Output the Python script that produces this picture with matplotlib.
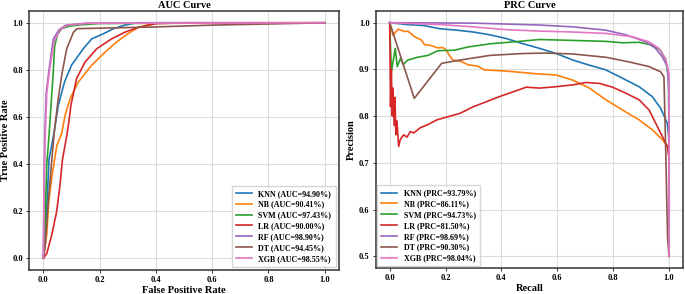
import matplotlib
matplotlib.use("Agg")
import matplotlib.pyplot as plt

plt.rcParams["font.family"] = ["Liberation Serif", "DejaVu Serif"]
plt.rcParams["font.weight"] = "bold"

models = ["KNN", "NB", "SVM", "LR", "RF", "DT", "XGB"]
colors = ["#1f77b4", "#ff7f0e", "#2ca02c", "#d62728", "#9467bd", "#8c564b", "#e377c2"]
auc_scores = [94.90, 90.41, 97.43, 90.00, 98.90, 94.45, 98.55]
prc_scores = [93.79, 86.11, 94.73, 81.50, 98.69, 90.30, 98.04]

# ROC curves (fpr, tpr)
knn_fpr = [0, 0.005, 0.012, 0.02, 0.039, 0.053, 0.075, 0.10, 0.142, 0.172, 0.213, 0.249, 0.29, 0.33, 1.0]
knn_tpr = [0, 0.08, 0.21, 0.42, 0.54, 0.65, 0.748, 0.82, 0.89, 0.932, 0.953, 0.975, 0.99, 1.0, 1.0]
nb_fpr = [0, 0.006, 0.012, 0.019, 0.031, 0.048, 0.065, 0.077, 0.095, 0.124, 0.172, 0.219, 0.26, 0.30, 0.336, 0.40, 1.0]
nb_tpr = [0, 0.05, 0.10, 0.24, 0.353, 0.48, 0.53, 0.607, 0.678, 0.748, 0.82, 0.875, 0.918, 0.953, 0.98, 1.0, 1.0]
svm_fpr = [0, 0.004, 0.007, 0.012, 0.02, 0.035, 0.04, 0.05, 0.065, 0.09, 0.12, 0.2, 1.0]
svm_tpr = [0, 0.05, 0.2, 0.4, 0.52, 0.79, 0.90, 0.95, 0.975, 0.985, 0.99, 0.997, 1.0]
lr_fpr = [0, 0.012, 0.03, 0.047, 0.059, 0.068, 0.083, 0.089, 0.098, 0.118, 0.148, 0.19, 0.243, 0.29, 0.336, 0.40, 0.5, 1.0]
lr_tpr = [0, 0.02, 0.10, 0.197, 0.31, 0.42, 0.52, 0.565, 0.65, 0.763, 0.833, 0.89, 0.932, 0.96, 0.98, 0.996, 1.0, 1.0]
rf_fpr = [0, 0.002, 0.005, 0.01, 0.02, 0.035, 0.055, 0.08, 0.15, 1.0]
rf_tpr = [0, 0.3, 0.52, 0.7, 0.8, 0.93, 0.97, 0.99, 0.998, 1.0]
dt_fpr = [0, 0.006, 0.015, 0.03, 0.039, 0.053, 0.067, 0.083, 0.107, 0.12, 0.39, 0.6, 1.0]
dt_tpr = [0, 0.05, 0.2, 0.42, 0.54, 0.68, 0.79, 0.89, 0.96, 0.975, 0.982, 0.99, 1.0]
xgb_fpr = [0, 0.002, 0.006, 0.012, 0.022, 0.038, 0.058, 0.085, 0.16, 1.0]
xgb_tpr = [0, 0.25, 0.5, 0.7, 0.8, 0.92, 0.97, 0.99, 0.998, 1.0]

# Precision-recall curves (recall, precision)
knn_rec = [0, 0.062, 0.121, 0.18, 0.24, 0.30, 0.359, 0.418, 0.477, 0.537, 0.596, 0.656, 0.715, 0.774, 0.834, 0.893, 0.94, 0.97, 0.994, 1.0]
knn_prec = [1.0, 0.996, 0.994, 0.987, 0.984, 0.98, 0.974, 0.966, 0.955, 0.945, 0.934, 0.92, 0.909, 0.899, 0.881, 0.863, 0.842, 0.817, 0.785, 0.75]
nb_rec = [0, 0.012, 0.03, 0.054, 0.065, 0.089, 0.113, 0.125, 0.149, 0.173, 0.19, 0.202, 0.214, 0.226, 0.256, 0.28, 0.315, 0.339, 0.399, 0.446, 0.518, 0.596, 0.656, 0.715, 0.774, 0.834, 0.893, 0.94, 0.976, 0.994, 1.0]
nb_prec = [1.0, 0.973, 0.986, 0.981, 0.982, 0.97, 0.963, 0.953, 0.951, 0.946, 0.947, 0.942, 0.93, 0.92, 0.917, 0.91, 0.907, 0.899, 0.897, 0.895, 0.891, 0.888, 0.877, 0.86, 0.835, 0.813, 0.792, 0.771, 0.75, 0.735, 0.74]
svm_rec = [0, 0.006, 0.02, 0.027, 0.039, 0.048, 0.065, 0.10, 0.137, 0.173, 0.232, 0.28, 0.363, 0.446, 0.537, 0.656, 0.774, 0.834, 0.893, 0.94, 0.97, 0.988, 0.998, 1.0]
svm_prec = [1.0, 0.895, 0.945, 0.906, 0.924, 0.91, 0.92, 0.926, 0.93, 0.94, 0.941, 0.948, 0.955, 0.959, 0.964, 0.962, 0.96, 0.957, 0.958, 0.952, 0.941, 0.92, 0.884, 0.75]
lr_rec = [0, 0.003, 0.006, 0.009, 0.012, 0.016, 0.019, 0.022, 0.026, 0.032, 0.038, 0.05, 0.062, 0.074, 0.086, 0.109, 0.137, 0.169, 0.252, 0.299, 0.394, 0.442, 0.489, 0.537, 0.596, 0.656, 0.703, 0.751, 0.798, 0.846, 0.893, 0.929, 0.964, 0.982, 0.994, 1.0]
lr_prec = [1.0, 0.82, 0.9, 0.80, 0.86, 0.78, 0.84, 0.76, 0.79, 0.735, 0.75, 0.76, 0.755, 0.767, 0.764, 0.775, 0.782, 0.792, 0.806, 0.82, 0.842, 0.852, 0.862, 0.86, 0.863, 0.867, 0.872, 0.87, 0.862, 0.849, 0.835, 0.813, 0.771, 0.75, 0.735, 0.71]
rf_rec = [0, 0.30, 0.537, 0.656, 0.774, 0.846, 0.917, 0.952, 0.976, 0.994, 1.0, 1.0]
rf_prec = [1.0, 0.999, 0.995, 0.991, 0.984, 0.974, 0.959, 0.945, 0.927, 0.906, 0.85, 0.5]
dt_rec = [0, 0.088, 0.186, 0.252, 0.359, 0.477, 0.56, 0.656, 0.774, 0.857, 0.929, 0.97, 0.982, 0.988, 0.995, 1.0]
dt_prec = [1.0, 0.838, 0.913, 0.92, 0.93, 0.934, 0.935, 0.933, 0.926, 0.916, 0.906, 0.895, 0.884, 0.735, 0.54, 0.5]
xgb_rec = [0, 0.18, 0.30, 0.418, 0.537, 0.656, 0.774, 0.869, 0.929, 0.964, 0.988, 1.0, 1.0]
xgb_prec = [1.0, 0.996, 0.991, 0.985, 0.982, 0.98, 0.977, 0.97, 0.959, 0.945, 0.923, 0.89, 0.5]

roc_data = [(knn_fpr, knn_tpr), (nb_fpr, nb_tpr), (svm_fpr, svm_tpr), (lr_fpr, lr_tpr),
            (rf_fpr, rf_tpr), (dt_fpr, dt_tpr), (xgb_fpr, xgb_tpr)]
prc_data = [(knn_rec, knn_prec), (nb_rec, nb_prec), (svm_rec, svm_prec), (lr_rec, lr_prec),
            (rf_rec, rf_prec), (dt_rec, dt_prec), (xgb_rec, xgb_prec)]

fig = plt.figure(figsize=(6.85, 2.94), dpi=100)
ax1 = fig.add_axes([0.0428, 0.0816, 0.4517, 0.881])
ax2 = fig.add_axes([0.5485, 0.0884, 0.4485, 0.8742])


def style_axes(ax, title, xlabel, ylabel):
    ax.set_title(title, fontsize=7.5, fontweight="bold", pad=2)
    ax.set_xlabel(xlabel, fontsize=7.5, fontweight="bold", labelpad=1)
    ax.set_ylabel(ylabel, fontsize=7.5, fontweight="bold", labelpad=2)
    ax.grid(True, color="#dcdcdc", linewidth=0.8)
    ax.set_axisbelow(True)
    for s in ax.spines.values():
        s.set_color("#333333")
        s.set_linewidth(1.1)
    ax.tick_params(direction="out", length=2.5, width=0.7, colors="#333333",
                   labelsize=6, pad=2, labelcolor="black")
    for lab in ax.get_xticklabels() + ax.get_yticklabels():
        lab.set_fontweight("bold")


for (x, y), name, c, sc in zip(roc_data, models, colors, auc_scores):
    ax1.plot(x, y, color=c, lw=1.2, label=f"{name} (AUC={sc:.2f}%)")
ax1.set_xticks([0.0, 0.2, 0.4, 0.6, 0.8, 1.0])
ax1.set_yticks([0.0, 0.2, 0.4, 0.6, 0.8, 1.0])
style_axes(ax1, "AUC Curve", "False Positive Rate", "True Positive Rate")
ax1.legend(loc="lower right", prop={"size": 5.8, "weight": "bold"}, borderaxespad=0.4,
           labelspacing=0.35, handlelength=2.0, borderpad=0.5, edgecolor="#cccccc",
           fancybox=False)

for (x, y), name, c, sc in zip(prc_data, models, colors, prc_scores):
    ax2.plot(x, y, color=c, lw=1.2, label=f"{name} (PRC={sc:.2f}%)")
ax2.set_xticks([0.0, 0.2, 0.4, 0.6, 0.8, 1.0])
ax2.set_yticks([0.5, 0.6, 0.7, 0.8, 0.9, 1.0])
style_axes(ax2, "PRC Curve", "Recall", "Precision")
ax2.legend(loc="lower left", prop={"size": 5.8, "weight": "bold"}, borderaxespad=0.2,
           labelspacing=0.35, handlelength=2.0, borderpad=0.5, edgecolor="#cccccc",
           fancybox=False)

fig.savefig("out.png", dpi=100)
